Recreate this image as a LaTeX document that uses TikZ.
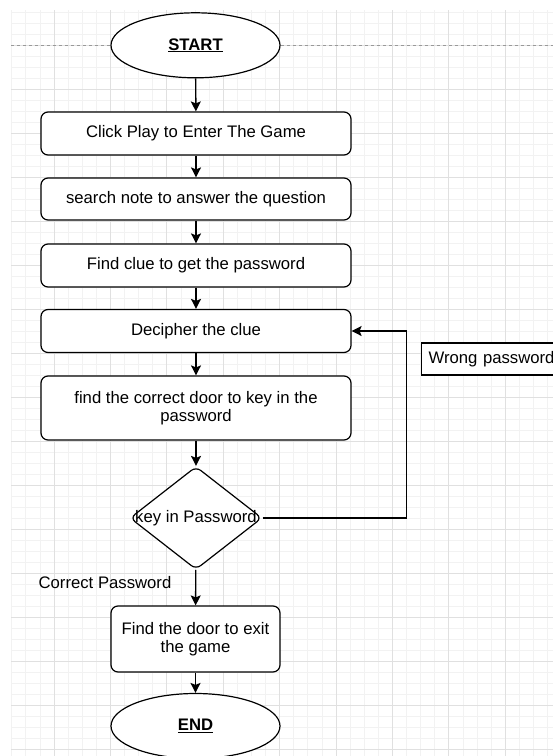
\documentclass[tikz,border=0pt]{standalone}
\usepackage{fontspec}
\setmainfont{Liberation Sans}
\usetikzlibrary{shapes.geometric,arrows.meta}
\tikzset{
  minorgrid/.style={draw=black!5,line width=0.7pt},
  majorgrid/.style={draw=black!12,line width=0.8pt},
  stepbox/.style={draw=black,line width=1.2pt,fill=white,rounded corners=7pt,
    inner sep=0pt,align=center},
  terminal/.style={draw=black,line width=1.2pt,fill=white,ellipse,inner sep=0pt,
    minimum width=169pt,minimum height=65pt},
  decision/.style={draw=black,line width=1.2pt,fill=white,diamond,inner sep=0pt,
    rounded corners=6pt,minimum width=132pt,minimum height=103pt},
  flow/.style={draw=black,line width=1.4pt,-{Stealth[length=10pt,width=10pt,inset=2pt]}},
  note/.style={draw=black,line width=1.2pt,fill=white,inner sep=0pt}
}
\begin{document}
\begin{tikzpicture}[x=1pt,y=-1pt,font=\fontsize{16.7}{18.5}\selectfont]
\useasboundingbox (0,0) rectangle (553,756);
\fill[white] (0,0) rectangle (553,756);
\begin{scope}
  \clip (11,10.5) rectangle (553,756);
  % background grid: minor steps 14.1 x 11, major every fourth line
  \foreach \k in {-4,...,40} \draw[minorgrid] ({54+14.1*\k},0) -- ++(0,760);
  \foreach \k in {-4,...,70} \draw[minorgrid] (0,{45+11*\k}) -- ++(560,0);
  \foreach \k in {-1,...,9} \draw[majorgrid] ({54+56.4*\k},0) -- ++(0,760);
  \foreach \k in {-1,...,17} \draw[majorgrid] (0,{45+44*\k}) -- ++(560,0);
  % page break guide
  \draw[black!40,line width=0.8pt,dash pattern=on 3pt off 3pt] (11,45) -- (553,45);
\end{scope}

\begin{scope}
\clip (0,0) rectangle (553,756);
\node[terminal] (start) at (195.5,45.3) {\underline{\textbf{START}}};
\node[stepbox,minimum width=310pt,minimum height=43pt] (play) at (196,133.5) {Click Play to Enter The Game};
\node[stepbox,minimum width=310pt,minimum height=42pt] (note) at (196,199) {search note to answer the question};
\node[stepbox,minimum width=310pt,minimum height=43pt] (clue) at (196,265.5) {Find clue to get the password};
\node[stepbox,minimum width=310pt,minimum height=43pt] (deci) at (196,331) {Decipher the clue};
\node[stepbox,minimum width=310pt,minimum height=64pt] (door) at (196,408) {find the correct door to key in the\\password};
\node[decision,label=center:{key in Password}] (key) at (196,518) {};
\node[stepbox,minimum width=169pt,minimum height=66pt] (exit) at (195.5,639) {Find the door to exit\\the game};
\node[terminal] (end) at (195.5,726) {\underline{\textbf{END}}};
\node[note,anchor=west,minimum width=150pt,minimum height=32pt,text width=150pt,align=left] (wrong) at (421,359) {\hspace{7pt}Wrong password};
\node (correct) at (105,583) {Correct Password};
\coordinate (turn) at (406.5,331);

\draw[flow] (start) -- (play);
\draw[flow] (play) -- (note);
\draw[flow] (note) -- (clue);
\draw[flow] (clue) -- (deci);
\draw[flow] (deci) -- (door);
\draw[flow] (door) -- (key);
\draw[flow] (key) -- (exit);
\draw[flow] (exit) -- (end);
\draw[flow] (key.east) -| (turn) -- (deci.east);
\end{scope}
\end{tikzpicture}
\end{document}
